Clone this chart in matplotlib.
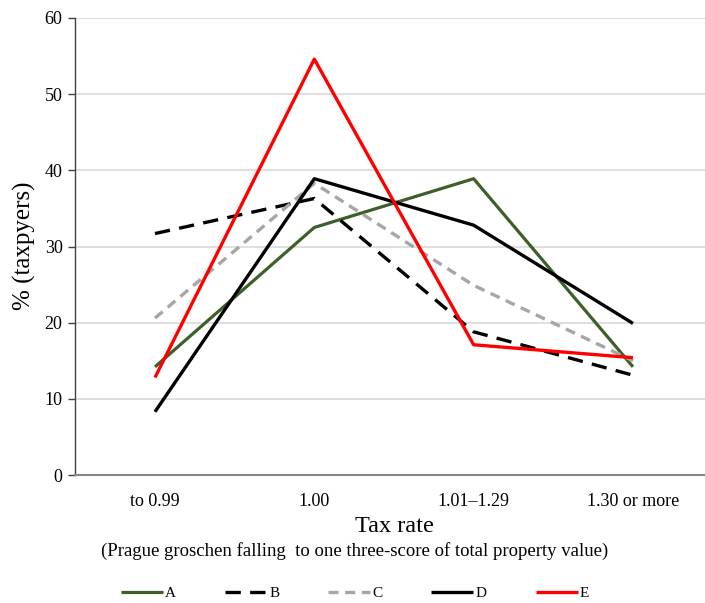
import matplotlib
matplotlib.use("Agg")
import matplotlib.pyplot as plt

plt.rcParams['font.family'] = ['Liberation Serif', 'DejaVu Serif']

categories = ["to 0.99", "1.00", "1.01\u20131.29", "1.30 or more"]
series_names = ["A", "B", "C", "D", "E"]
A = [14.2, 32.5, 38.9, 14.2]
B = [31.7, 36.3, 18.8, 13.1]
C = [20.6, 38.3, 24.9, 15.0]
D = [8.3, 38.9, 32.8, 19.9]
E = [12.8, 54.6, 17.1, 15.4]
yticks = [0, 10, 20, 30, 40, 50, 60]

W, H = 705, 603
fig = plt.figure(figsize=(W / 100, H / 100), dpi=100)
ax = fig.add_axes([75 / W, 1 - 475 / H, (705 - 75) / W, (475 - 18) / H])

x = list(range(len(categories)))
styles = {
    "A": dict(color="#3f5f2a", lw=2.3, ls="-"),
    "B": dict(color="black", lw=2.4, ls=(0, (4.6, 2.8))),
    "C": dict(color="#a6a6a6", lw=2.4, ls=(0, (3.0, 2.0))),
    "D": dict(color="black", lw=2.4, ls="-"),
    "E": dict(color="#ff0000", lw=2.4, ls="-"),
}
data = {"A": A, "B": B, "C": C, "D": D, "E": E}
handles = []
for name in series_names:
    st = styles[name]
    (ln,) = ax.plot(x, data[name], color=st["color"], lw=st["lw"], linestyle=st["ls"],
                    solid_capstyle="butt", dash_capstyle="butt", label=name, zorder=3)
    handles.append(ln)

ax.set_xlim(-0.502, 3.452)
ax.set_ylim(0, 60)
ax.set_yticks(yticks)
ax.set_xticks(x)
ax.set_xticklabels(categories)
ax.grid(axis="y", color="#d9d9d9", lw=1.2, zorder=0)
ax.set_axisbelow(True)
for s in ["top", "right"]:
    ax.spines[s].set_visible(False)
ax.spines["left"].set_color("#404040")
ax.spines["left"].set_linewidth(1.0)
ax.spines["bottom"].set_color("#868686")
ax.spines["bottom"].set_linewidth(1.5)
ax.tick_params(axis="y", labelsize=13, length=5, width=1.0, color="#404040", pad=4)
ax.tick_params(axis="x", labelsize=13, length=0, pad=13)

fig.text(24 / W, 1 - 246 / H, "% (taxpyers)", rotation=90, fontsize=18,
         ha="center", va="center")
fig.text(394 / W, 1 - 526 / H, "Tax rate", fontsize=17.5, ha="center", va="center")
fig.text(355 / W, 1 - 551 / H,
         "(Prague groschen falling  to one three-score of total property value)",
         fontsize=13.5, ha="center", va="center")

fig.legend(handles=handles, labels=series_names, loc="center",
           bbox_to_anchor=(355 / W, 1 - 593 / H), ncol=5, frameon=False,
           fontsize=11, handlelength=2.75, handletextpad=0.15, columnspacing=3.2)

fig.savefig("out.png", dpi=100)
